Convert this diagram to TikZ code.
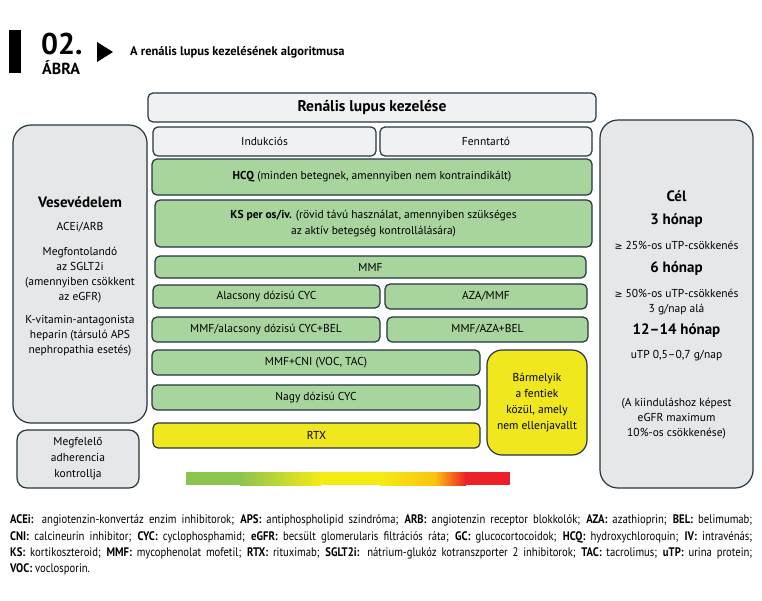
\documentclass[tikz,border=0pt]{standalone}
\usepackage{fontspec}
\setmainfont{PT Sans}
\newfontfamily\notefont[FakeStretch=0.86]{PT Sans}
\newfontfamily\symfont{DejaVu Sans}

\definecolor{boxline}{RGB}{36,54,64}
\definecolor{boxgreen}{RGB}{168,213,158}
\definecolor{boxgray}{RGB}{230,231,233}
\definecolor{boxwhite}{RGB}{240,241,243}
\definecolor{boxyellow}{RGB}{240,231,30}
\definecolor{grgreen}{RGB}{140,196,80}
\definecolor{gryellow}{RGB}{245,235,20}
\definecolor{grorange}{RGB}{250,195,15}
\definecolor{grred}{RGB}{236,32,39}

\newcommand{\geqsym}{{\symfont\fontsize{9.5}{15}\selectfont ≥}}
\newcommand{\bigline}[1]{{\fontsize{15}{15}\selectfont\bfseries #1}}

\tikzset{
  box/.style={draw=boxline, line width=1.2pt, rounded corners=5pt, inner sep=2pt,
    align=center, font=\fontsize{11.5}{15}\selectfont},
  greenbox/.style={box, fill=boxgreen},
  whitebox/.style={box, fill=boxwhite},
  yellowbox/.style={box, fill=boxyellow},
  graybox/.style={box, fill=boxgray, rounded corners=18pt},
  boxtext/.style={inner sep=0pt, anchor=north, align=center, font=\fontsize{11.5}{15}\selectfont},
  noteline/.style={inner sep=0pt, anchor=base west, font=\notefont\fontsize{12.4}{12}\selectfont},
}

\begin{document}
\begin{tikzpicture}[x=1pt, y=-1pt]
\useasboundingbox[fill=white] (0,0) rectangle (762,600);

% title
\fill[black] (9,30) rectangle (21,73);
\node[inner sep=0pt, anchor=base west, font=\fontsize{30}{30}\selectfont\bfseries] (num) at (41,54) {02.};
\node[inner sep=0pt, anchor=base west, font=\fontsize{16}{16}\selectfont\bfseries] (abra) at (42,74) {ÁBRA};
\fill[black] (97,42) -- (113,52) -- (97,62) -- cycle;
\node[inner sep=0pt, anchor=base west, font=\fontsize{12.5}{13}\selectfont\bfseries] (title) at (130,55) {A renális lupus kezelésének algoritmusa};

% middle column
\node[whitebox, minimum width=448, minimum height=29, font=\fontsize{15.5}{15}\selectfont\bfseries] (head) at (372,107.5) {Renális lupus kezelése};
\node[whitebox, minimum width=223, minimum height=29] (ind) at (264.5,141.5) {Indukciós};
\node[whitebox, minimum width=212, minimum height=29] (fenn) at (486,141.5) {Fenntartó};
\node[greenbox, minimum width=440, minimum height=36] (hcq) at (372,177) {\textbf{HCQ} (minden betegnek, amennyiben nem kontraindikált)};
\node[greenbox, minimum width=437, minimum height=47, font=\fontsize{11.5}{16}\selectfont] (ks) at (373.5,223.5) {\textbf{KS per os/iv.} (rövid távú használat, amennyiben szükséges\\az aktív betegség kontrollálására)};
\node[greenbox, minimum width=431, minimum height=22] (mmf) at (370.5,267) {MMF};
\node[greenbox, minimum width=227, minimum height=23] (alcyc) at (266.5,296.5) {Alacsony dózisú CYC};
\node[greenbox, minimum width=202, minimum height=25] (azammf) at (486,296.5) {AZA/MMF};
\node[greenbox, minimum width=228, minimum height=25] (mmfbel) at (266,329.5) {MMF/alacsony dózisú CYC+BEL};
\node[greenbox, minimum width=201, minimum height=25] (azabel) at (487.5,329.5) {MMF/AZA+BEL};
\node[greenbox, minimum width=328, minimum height=25] (cni) at (316,362.5) {MMF+CNI (VOC, TAC)};
\node[greenbox, minimum width=328, minimum height=25] (nagy) at (316,397.5) {Nagy dózisú CYC};
\node[yellowbox, minimum width=327, minimum height=25] (rtx) at (316.5,435.5) {RTX};
\node[yellowbox, rounded corners=15pt, minimum width=100, minimum height=105, font=\fontsize{11.5}{16}\selectfont] (barm) at (537,402.5) {Bármelyik\\a fentiek\\közül, amely\\nem ellenjavallt};

% colour scale
\fill[grgreen] (186,472) rectangle (241,485);
\shade[left color=grgreen, right color=gryellow] (240,472) rectangle (321,485);
\fill[gryellow] (320,472) rectangle (381,485);
\shade[left color=gryellow, right color=grorange] (380,472) rectangle (436,485);
\shade[left color=grorange, right color=grred] (435,472) rectangle (466,485);
\fill[grred] (465,472) rectangle (510,485);

% left column
\node[graybox, minimum width=134, minimum height=298] (vese) at (80,274) {};
\node[boxtext] (vesetext) at (80,196) {\bigline{Vesevédelem}\\[8pt]
  ACEi/ARB\\[10pt]
  Megfontolandó\\az SGLT2i\\(amennyiben csökkent\\az eGFR)\\[8pt]
  K-vitamin-antagonista\\heparin (társuló APS\\nephropathia esetés)};
\node[box, fill=boxgray, rounded corners=10pt, minimum width=122, minimum height=58, font=\fontsize{11.5}{16}\selectfont] (adh) at (78,459) {Megfelelő\\adherencia\\kontrollja};

% right column
\node[graybox, minimum width=153, minimum height=368] (cel) at (676.5,304) {};
\node[boxtext] (celtext) at (676.5,190) {\bigline{Cél}\\[8pt]
  \bigline{3 hónap}\\[10pt]
  \geqsym{} 25\%-os uTP-csökkenés\\[8pt]
  \bigline{6 hónap}\\[10pt]
  \geqsym{} 50\%-os uTP-csökkenés\\3 g/nap alá\\[7pt]
  \bigline{12–14 hónap}\\[9pt]
  uTP 0,5–0,7 g/nap\\[33pt]
  (A kiinduláshoz képest\\eGFR maximum\\10\%-os csökkenése)};

% abbreviations
\node[noteline] (note1) at (10,523) {\makebox[742pt][s]{\textbf{ACEi:} angiotenzin-konvertáz enzim inhibitorok; \textbf{APS:} antiphospholipid szindróma; \textbf{ARB:} angiotenzin receptor blokkolók; \textbf{AZA:} azathioprin; \textbf{BEL:} belimumab;}};
\node[noteline] (note2) at (10,540) {\makebox[742pt][s]{\textbf{CNI:} calcineurin inhibitor; \textbf{CYC:} cyclophosphamid; \textbf{eGFR:} becsült glomerularis filtrációs ráta; \textbf{GC:} glucocortocoidok; \textbf{HCQ:} hydroxychloroquin; \textbf{IV:} intravénás;}};
\node[noteline] (note3) at (10,556) {\makebox[742pt][s]{\textbf{KS:} kortikoszteroid; \textbf{MMF:} mycophenolat mofetil; \textbf{RTX:} rituximab; \textbf{SGLT2i:} nátrium-glukóz kotranszporter 2 inhibitorok; \textbf{TAC:} tacrolimus; \textbf{uTP:} urina protein;}};
\node[noteline] (note4) at (10,572) {\textbf{VOC:} voclosporin.};
\end{tikzpicture}
\end{document}
